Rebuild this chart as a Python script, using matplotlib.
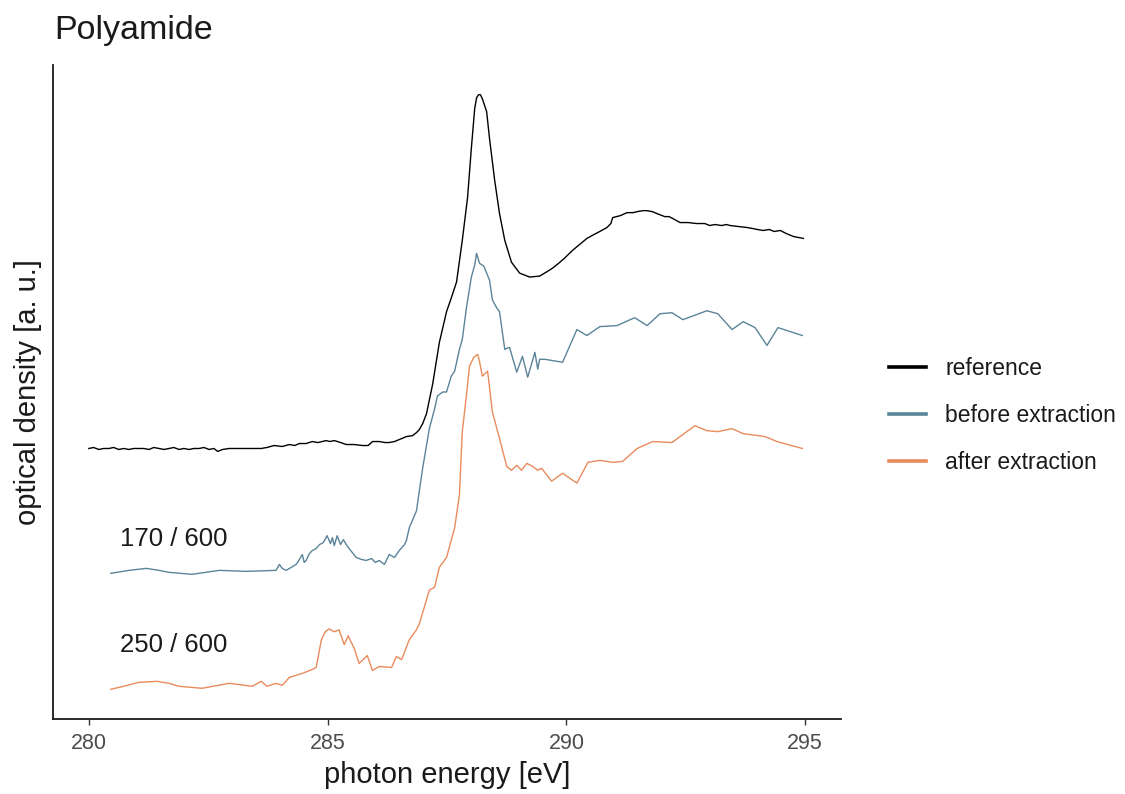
import matplotlib
matplotlib.use("Agg")
import matplotlib.pyplot as plt
from matplotlib.lines import Line2D

plt.rcParams['font.family'] = ['Liberation Sans', 'DejaVu Sans']

# ---- data (photon energy in eV, optical density in a.u., offset per series) ----
ref_x = [280.00, 280.10, 280.21, 280.31, 280.42, 280.52, 280.63, 280.73, 280.84, 280.94,
         281.05, 281.15, 281.26, 281.36, 281.47, 281.57, 281.68, 281.78, 281.89, 281.99,
         282.10, 282.20, 282.31, 282.41, 282.52, 282.62, 282.70, 282.80, 282.94, 283.15,
         283.36, 283.61, 283.73, 283.88, 284.05, 284.20, 284.31, 284.41, 284.55, 284.68,
         284.80, 284.97, 285.05, 285.14, 285.27, 285.39, 285.55, 285.73, 285.85, 285.94,
         286.08, 286.20, 286.29, 286.40, 286.50, 286.65, 286.78, 286.86, 286.92, 286.99,
         287.07, 287.20, 287.34, 287.49, 287.59, 287.70, 287.82, 287.93, 288.01, 288.08,
         288.12, 288.16, 288.20, 288.24, 288.33, 288.39, 288.50, 288.60, 288.71, 288.85,
         289.02, 289.23, 289.44, 289.58, 289.71, 289.84, 289.96, 290.13, 290.28, 290.43,
         290.58, 290.70, 290.85, 290.93, 290.97, 291.13, 291.27, 291.40, 291.48, 291.60,
         291.69, 291.80, 291.90, 292.06, 292.15, 292.23, 292.38, 292.55, 292.73, 292.90,
         293.00, 293.11, 293.25, 293.35, 293.43, 293.60, 293.78, 293.90, 294.00, 294.12,
         294.25, 294.35, 294.48, 294.60, 294.75, 294.85, 294.96]
ref_y = [2.69, 2.70, 2.68, 2.69, 2.69, 2.70, 2.68, 2.69, 2.68, 2.69,
         2.69, 2.69, 2.68, 2.70, 2.69, 2.68, 2.69, 2.70, 2.68, 2.69,
         2.68, 2.69, 2.69, 2.70, 2.68, 2.69, 2.66, 2.68, 2.69, 2.69,
         2.69, 2.69, 2.70, 2.72, 2.71, 2.73, 2.72, 2.74, 2.74, 2.76,
         2.75, 2.77, 2.76, 2.77, 2.75, 2.73, 2.73, 2.72, 2.72, 2.76,
         2.76, 2.75, 2.75, 2.76, 2.78, 2.81, 2.82, 2.85, 2.88, 2.94,
         3.04, 3.34, 3.76, 4.07, 4.21, 4.37, 4.79, 5.22, 5.72, 6.12,
         6.23, 6.26, 6.26, 6.22, 6.09, 5.82, 5.39, 5.06, 4.79, 4.57,
         4.46, 4.42, 4.43, 4.47, 4.51, 4.56, 4.61, 4.69, 4.75, 4.81,
         4.85, 4.88, 4.92, 4.96, 5.02, 5.04, 5.07, 5.07, 5.08, 5.09,
         5.09, 5.08, 5.06, 5.03, 5.03, 5.01, 4.97, 4.97, 4.96, 4.96,
         4.94, 4.95, 4.94, 4.95, 4.94, 4.93, 4.92, 4.91, 4.90, 4.89,
         4.90, 4.88, 4.89, 4.86, 4.83, 4.82, 4.81]

before_x = [280.46, 280.84, 281.20, 281.47, 281.68, 282.16, 282.73, 283.29, 283.92, 283.99,
            284.05, 284.13, 284.24, 284.34, 284.41, 284.47, 284.51, 284.55, 284.62, 284.68,
            284.76, 284.83, 284.91, 284.99, 285.06, 285.10, 285.14, 285.20, 285.27, 285.33,
            285.39, 285.50, 285.60, 285.71, 285.81, 285.92, 286.00, 286.08, 286.19, 286.29,
            286.40, 286.50, 286.61, 286.65, 286.71, 286.86, 286.99, 287.13, 287.24, 287.30,
            287.41, 287.49, 287.59, 287.66, 287.76, 287.82, 287.91, 288.01, 288.08, 288.12,
            288.18, 288.27, 288.33, 288.39, 288.45, 288.54, 288.60, 288.66, 288.71, 288.75,
            288.81, 288.96, 289.08, 289.19, 289.25, 289.34, 289.40, 289.44, 289.55, 289.92,
            290.22, 290.43, 290.70, 291.06, 291.43, 291.69, 291.96, 292.21, 292.44, 292.94,
            293.17, 293.47, 293.70, 293.95, 294.20, 294.43, 294.94]
before_y = [1.43, 1.46, 1.48, 1.46, 1.44, 1.42, 1.46, 1.45, 1.46, 1.52,
            1.48, 1.46, 1.49, 1.52, 1.57, 1.62, 1.54, 1.56, 1.63, 1.66,
            1.68, 1.72, 1.74, 1.81, 1.73, 1.79, 1.71, 1.81, 1.72, 1.77,
            1.72, 1.65, 1.59, 1.57, 1.56, 1.58, 1.54, 1.56, 1.52, 1.62,
            1.59, 1.66, 1.72, 1.76, 1.89, 2.06, 2.49, 2.89, 3.09, 3.22,
            3.26, 3.26, 3.42, 3.47, 3.69, 3.79, 4.12, 4.42, 4.54, 4.66,
            4.56, 4.53, 4.46, 4.39, 4.19, 4.11, 4.07, 3.86, 3.69, 3.70,
            3.71, 3.46, 3.62, 3.41, 3.51, 3.66, 3.49, 3.59, 3.59, 3.56,
            3.89, 3.83, 3.92, 3.93, 4.01, 3.93, 4.05, 4.06, 3.99, 4.08,
            4.05, 3.89, 3.97, 3.91, 3.73, 3.91, 3.83]

after_x = [280.46, 280.73, 281.05, 281.43, 281.68, 281.89, 282.37, 282.94, 283.42, 283.61,
           283.73, 283.92, 284.05, 284.20, 284.47, 284.68, 284.76, 284.87, 284.95, 285.03,
           285.14, 285.24, 285.35, 285.43, 285.56, 285.66, 285.83, 285.94, 286.08, 286.34,
           286.44, 286.55, 286.71, 286.86, 286.92, 287.07, 287.13, 287.24, 287.34, 287.49,
           287.66, 287.76, 287.82, 287.91, 287.97, 288.06, 288.14, 288.18, 288.24, 288.35,
           288.45, 288.60, 288.75, 288.85, 288.96, 289.06, 289.17, 289.29, 289.40, 289.48,
           289.69, 289.92, 290.22, 290.45, 290.70, 290.97, 291.18, 291.48, 291.81, 292.21,
           292.69, 292.94, 293.17, 293.47, 293.70, 294.16, 294.41, 294.94]
after_y = [0.26, 0.29, 0.33, 0.34, 0.32, 0.29, 0.27, 0.32, 0.29, 0.34,
           0.29, 0.32, 0.30, 0.38, 0.42, 0.46, 0.48, 0.76, 0.84, 0.87,
           0.84, 0.86, 0.71, 0.80, 0.67, 0.52, 0.60, 0.45, 0.49, 0.48,
           0.59, 0.56, 0.76, 0.86, 0.92, 1.16, 1.26, 1.29, 1.49, 1.59,
           1.89, 2.22, 2.86, 3.24, 3.52, 3.61, 3.64, 3.57, 3.42, 3.47,
           3.06, 2.79, 2.51, 2.47, 2.52, 2.47, 2.54, 2.51, 2.47, 2.49,
           2.36, 2.44, 2.34, 2.55, 2.57, 2.55, 2.56, 2.69, 2.76, 2.75,
           2.92, 2.87, 2.86, 2.89, 2.84, 2.81, 2.76, 2.69]

series_labels = ["reference", "before extraction", "after extraction"]
series_colors = ["#000000", "#5B8499", "#E98B5C"]
x_ticks = [280, 285, 290, 295]
annot_texts = ["170 / 600", "250 / 600"]
annot_x = [280.65, 280.65]
annot_y = [1.78, 0.71]

# ---- figure ----
W, H = 1125, 794
fig = plt.figure(figsize=(W / 100, H / 100), dpi=100)
ax = fig.add_axes([53 / W, (H - 719) / H, (841 - 53) / W, (719 - 65) / H])

xs = [ref_x, before_x, after_x]
ys = [ref_y, before_y, after_y]
for x, y, c in zip(xs, ys, series_colors):
    ax.plot(x, y, color=c, lw=1.0, solid_joinstyle='round')

xmin, xmax = 280.0, 295.0
ymin = min(min(y) for y in ys)
ymax = max(max(y) for y in ys)
ax.set_xlim(xmin - 0.05 * (xmax - xmin), xmax + 0.05 * (xmax - xmin))
ax.set_ylim(ymin - 0.05 * (ymax - ymin), ymax + 0.05 * (ymax - ymin))

for t, x, y in zip(annot_texts, annot_x, annot_y):
    ax.text(x, y, t, fontsize=18.5, color='#1A1A1A', ha='left', va='center')

ax.set_xticks(x_ticks)
ax.set_xticklabels([str(t) for t in x_ticks])
ax.set_yticks([])
ax.tick_params(axis='x', length=4, width=1.0, color='#333333', labelsize=15.5,
               labelcolor='#4D4D4D', pad=6)
for s in ['top', 'right']:
    ax.spines[s].set_visible(False)
for s in ['left', 'bottom']:
    ax.spines[s].set_linewidth(1.3)
    ax.spines[s].set_color('#1A1A1A')

ax.set_xlabel("photon energy [eV]", fontsize=21, color='#1A1A1A', labelpad=5)
ax.set_ylabel("optical density [a. u.]", fontsize=21, color='#1A1A1A', labelpad=8)

fig.text(54 / W, (H - 39) / H, "Polyamide", fontsize=24.5, color='#1A1A1A',
         ha='left', va='baseline')

handles = [Line2D([0], [0], color=c, lw=2.6) for c in series_colors]
leg = fig.legend(handles, series_labels, loc='upper left',
                 bbox_to_anchor=(889 / W, (H - 357) / H), frameon=False,
                 fontsize=16.5, handlelength=1.6, handletextpad=0.85,
                 labelspacing=1.04, borderaxespad=0, borderpad=0)
for t in leg.get_texts():
    t.set_color('#1A1A1A')

fig.savefig("out.png", dpi=100)
